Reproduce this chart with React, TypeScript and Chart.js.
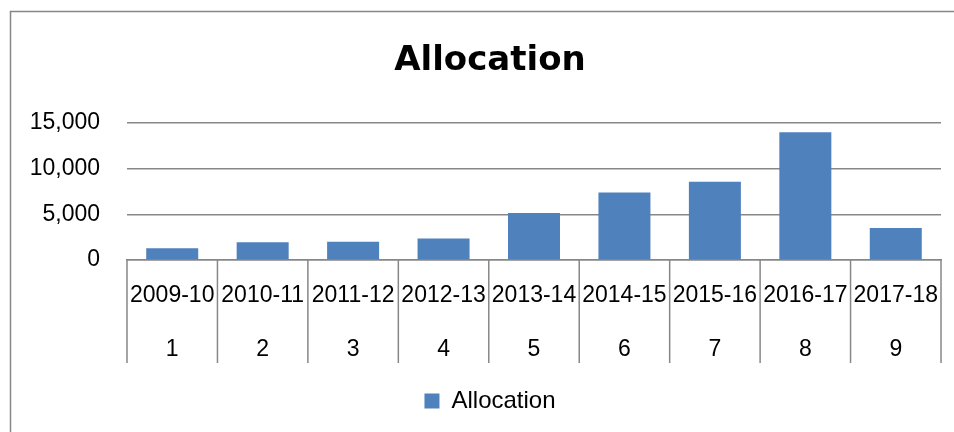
import React, { useEffect, useRef } from "react";
import { Chart, registerables } from "chart.js";

Chart.register(...registerables);

const categories = ["2009-10", "2010-11", "2011-12", "2012-13", "2013-14", "2014-15", "2015-16", "2016-17", "2017-18"];
const indexLabels = ["1", "2", "3", "4", "5", "6", "7", "8", "9"];
const allocation = [1280, 1940, 1985, 2350, 5140, 7390, 8560, 13965, 3485];
const yMin = 0;
const yMax = 15000;
const yStep = 5000;

const GRAY = "#878787";
const BAR = "#4F81BD";

const framePlugin = {
  id: "frame",
  beforeDraw(chart: any) {
    const ctx = chart.ctx;
    ctx.save();
    ctx.fillStyle = "#ffffff";
    ctx.fillRect(0, 0, chart.width, chart.height);
    ctx.strokeStyle = GRAY;
    ctx.lineWidth = 1.5;
    ctx.strokeRect(10.5, 11.5, chart.width + 50, chart.height + 50);
    ctx.restore();
  },
};

const labelAreaPlugin = {
  id: "labelArea",
  afterLayout(chart: any) {
    // widen the y scale's label clip area so long tick labels are not cut
    chart.scales.y.left = 0;
  },
};

const separatorPlugin = {
  id: "separators",
  afterDraw(chart: any) {
    const x = chart.scales.x;
    const ctx = chart.ctx;
    const top = chart.chartArea.bottom;
    ctx.save();
    ctx.strokeStyle = GRAY;
    ctx.lineWidth = 1.5;
    for (let i = 0; i <= categories.length; i++) {
      const px = x.getPixelForValue(i - 0.5);
      ctx.beginPath();
      ctx.moveTo(px, top);
      ctx.lineTo(px, top + 103);
      ctx.stroke();
    }
    ctx.restore();
  },
};

export default function App() {
  const ref = useRef<HTMLCanvasElement | null>(null);

  useEffect(() => {
    if (!ref.current) return;
    const chart = new Chart(ref.current, {
      type: "bar",
      data: {
        labels: categories.map((c, i) => [c, indexLabels[i]]),
        datasets: [
          {
            label: "Allocation",
            data: allocation,
            backgroundColor: BAR,
            borderWidth: 0,
            categoryPercentage: 0.575,
            barPercentage: 1,
          },
        ],
      },
      options: {
        animation: false,
        responsive: false,
        devicePixelRatio: 1,
        layout: { padding: { left: 39, right: 13, top: 0, bottom: 9 } },
        plugins: {
          title: {
            display: true,
            text: "Allocation",
            color: "#000",
            font: { family: "DejaVu Sans", weight: "bold", size: 34, lineHeight: 1.2 },
            padding: { top: 41, bottom: 41 },
          },
          legend: {
            display: true,
            position: "bottom",
            labels: {
              color: "#000",
              font: { family: "Liberation Sans", size: 24 },
              boxWidth: 15,
              boxHeight: 15,
              padding: 3,
            },
          },
          tooltip: { enabled: false },
        },
        scales: {
          x: {
            grid: { display: true, drawOnChartArea: false, drawTicks: false },
            border: { display: true, color: GRAY, width: 1.5 },
            ticks: {
              color: "#000",
              font: { family: "Liberation Sans", size: 23, lineHeight: "54px" },
              padding: 9,
              autoSkip: false,
              maxRotation: 0,
              minRotation: 0,
            },
          },
          y: {
            min: yMin,
            max: yMax,
            afterFit: (scale: any) => {
              scale.width = 88;
            },
            grid: { color: GRAY, lineWidth: 1.5, drawTicks: false },
            border: { display: false },
            ticks: {
              stepSize: yStep,
              color: "#000",
              font: { family: "Liberation Sans", size: 23 },
              padding: 27,
              callback: (v: any) => Number(v).toLocaleString("en-US"),
            },
          },
        },
      },
      plugins: [framePlugin, labelAreaPlugin, separatorPlugin],
    });
    return () => chart.destroy();
  }, []);

  return (
    <div style={{ position: "fixed", left: 0, top: 0, width: 954, height: 432, background: "#fff" }}>
      <canvas ref={ref} width={954} height={432} style={{ display: "block" }} />
    </div>
  );
}
